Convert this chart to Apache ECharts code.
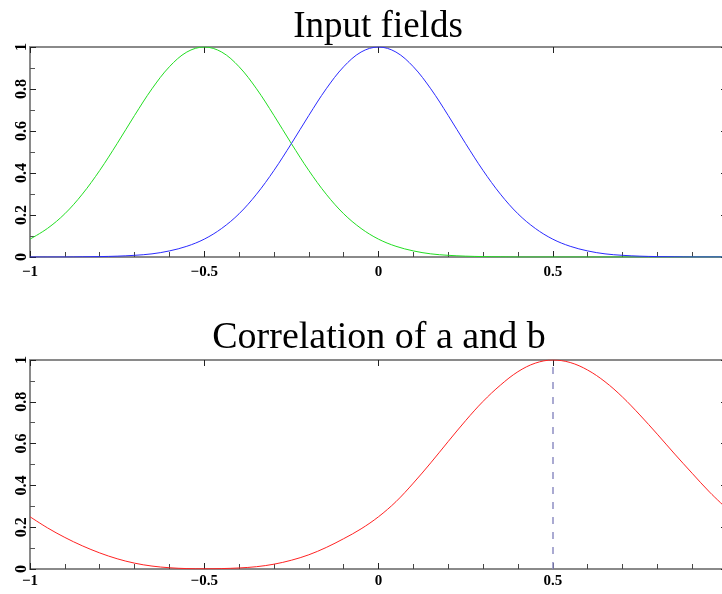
<!DOCTYPE html>
<html>
<head>
<meta charset="utf-8">
<script src="https://cdn.jsdelivr.net/npm/echarts@6/dist/echarts.min.js"></script>
<style>html,body{margin:0;padding:0;background:#fff}#c{width:722px;height:594px}</style>
</head>
<body>
<div id="c"></div>
<script>
// x positions of samples
const xs = [-1,-0.95,-0.9,-0.85,-0.8,-0.75,-0.7,-0.65,-0.6,-0.55,-0.5,-0.45,-0.4,-0.35,-0.3,-0.25,-0.2,-0.15,-0.1,-0.05,0,
  0.05,0.1,0.15,0.2,0.25,0.3,0.35,0.4,0.45,0.5,0.55,0.6,0.65,0.7,0.75,0.8,0.85,0.9,0.95,1];
// Input field a (green, peak at -0.5)
const fieldA = [0.085,0.136,0.206,0.299,0.412,0.54,0.674,0.801,0.906,0.976,1,
  0.976,0.906,0.801,0.674,0.54,0.412,0.299,0.206,0.136,0.085,
  0.051,0.029,0.015,0.008,0.004,0.002,0.001,0,0,0,
  0,0,0,0,0,0,0,0,0,0];
// Input field b (blue, peak at 0)
const fieldB = [0,0,0,0.001,0.002,0.004,0.008,0.015,0.029,0.051,0.085,
  0.136,0.206,0.299,0.412,0.54,0.674,0.801,0.906,0.976,1,
  0.976,0.906,0.801,0.674,0.54,0.412,0.299,0.206,0.136,0.085,
  0.051,0.029,0.015,0.008,0.004,0.002,0.001,0,0,0];
// Correlation of a and b (red)
const corr = [0.25,0.197,0.151,0.111,0.077,0.049,0.028,0.014,0.006,0.002,0.001,
  0.002,0.005,0.011,0.023,0.042,0.068,0.103,0.145,0.192,0.25,
  0.322,0.411,0.508,0.61,0.71,0.802,0.88,0.944,0.985,1,
  0.988,0.952,0.896,0.823,0.737,0.645,0.55,0.458,0.368,0.288];
const peakX = 0.5;
const titles = ['Input fields', 'Correlation of a and b'];
const xTicks = [-1, -0.5, 0, 0.5, 1];
const yTicks = [0, 0.2, 0.4, 0.6, 0.8, 1];

const pair = ys => xs.map((x, i) => [x, ys[i]]);
const FONT = 'Liberation Serif';
const axisLineStyle = { color: '#8a8a8a', width: 2 };
function xFmt(v) {
  if (v >= 1) return '';
  const s = String(Math.round(Math.abs(v) * 10) / 10);
  return v < 0 ? '\u2212' + s : s;
}
function yFmt(v) { return String(Math.round(v * 10) / 10); }

const grids = [
  { left: 30, top: 47, width: 697, height: 210, outerBoundsMode: 'none', containLabel: false },
  { left: 30, top: 360, width: 697, height: 209, outerBoundsMode: 'none', containLabel: false }
];
const xAxes = [], yAxes = [];
grids.forEach((g, gi) => {
  xAxes.push({
    type: 'value', gridIndex: gi, position: 'bottom', min: xTicks[0], max: xTicks[xTicks.length - 1], interval: 0.5,
    axisLine: { show: true, onZero: false, lineStyle: axisLineStyle },
    axisTick: { show: true, inside: true, length: 6, lineStyle: { color: '#222', width: 1 } },
    minorTick: { show: true, splitNumber: 5, length: 5, lineStyle: { color: '#444', width: 1 } },
    splitLine: { show: false },
    axisLabel: { show: true, margin: gi === 0 ? 8 : 5, fontFamily: FONT, fontSize: 15, fontWeight: 'bold', color: '#000', formatter: xFmt }
  });
  xAxes.push({
    type: 'value', gridIndex: gi, position: 'top', min: -1, max: 1, interval: 0.5,
    axisLine: { show: true, onZero: false, lineStyle: axisLineStyle },
    axisTick: { show: true, inside: true, length: 6, lineStyle: { color: '#222', width: 1 } },
    splitLine: { show: false }, axisLabel: { show: false }
  });
  yAxes.push({
    type: 'value', gridIndex: gi, position: 'left', min: yTicks[0], max: yTicks[yTicks.length - 1], interval: 0.2,
    axisLine: { show: true, onZero: false, lineStyle: axisLineStyle },
    axisTick: { show: true, inside: true, length: 6, lineStyle: { color: '#222', width: 1 } },
    minorTick: { show: true, splitNumber: 2, length: 5, lineStyle: { color: '#555', width: 1 } },
    splitLine: { show: false },
    axisLabel: { show: true, rotate: 90, margin: 0, fontFamily: FONT, fontSize: 16, fontWeight: 'bold', color: '#000', formatter: yFmt }
  });
  yAxes.push({
    type: 'value', gridIndex: gi, position: 'right', min: 0, max: 1, interval: 0.2,
    axisLine: { show: true, onZero: false, lineStyle: axisLineStyle },
    axisTick: { show: true, inside: true, length: 6, lineStyle: { color: '#222', width: 1 } },
    splitLine: { show: false }, axisLabel: { show: false }
  });
});

const chart = echarts.init(document.getElementById('c'), null, { renderer: 'canvas' });
chart.setOption({
  animation: false,
  backgroundColor: '#fff',
  title: [
    { text: titles[0], left: 373, top: 4, textAlign: 'center', textStyle: { fontFamily: FONT, fontSize: 37, fontWeight: 'normal', color: '#000' } },
    { text: titles[1], left: 374, top: 314, textAlign: 'center', textStyle: { fontFamily: FONT, fontSize: 38, fontWeight: 'normal', color: '#000' } }
  ],
  grid: grids,
  xAxis: xAxes,
  yAxis: yAxes,
  series: [
    { type: 'line', xAxisIndex: 0, yAxisIndex: 0, data: pair(fieldA), showSymbol: false, smooth: 0.35, lineStyle: { color: '#22dd22', width: 1 }, itemStyle: { color: '#22dd22' } },
    { type: 'line', xAxisIndex: 0, yAxisIndex: 0, data: pair(fieldB), showSymbol: false, smooth: 0.35, lineStyle: { color: '#2a2aff', width: 1 }, itemStyle: { color: '#2a2aff' } },
    { type: 'line', xAxisIndex: 2, yAxisIndex: 2, data: pair(corr), showSymbol: false, smooth: 0.35, lineStyle: { color: '#ff2222', width: 1 }, itemStyle: { color: '#ff2222' },
      markLine: { silent: true, symbol: 'none', label: { show: false },
        lineStyle: { color: '#8f8fc4', type: [7, 8], width: 1.5 },
        data: [{ xAxis: peakX }] } }
  ]
});
</script>
</body>
</html>
